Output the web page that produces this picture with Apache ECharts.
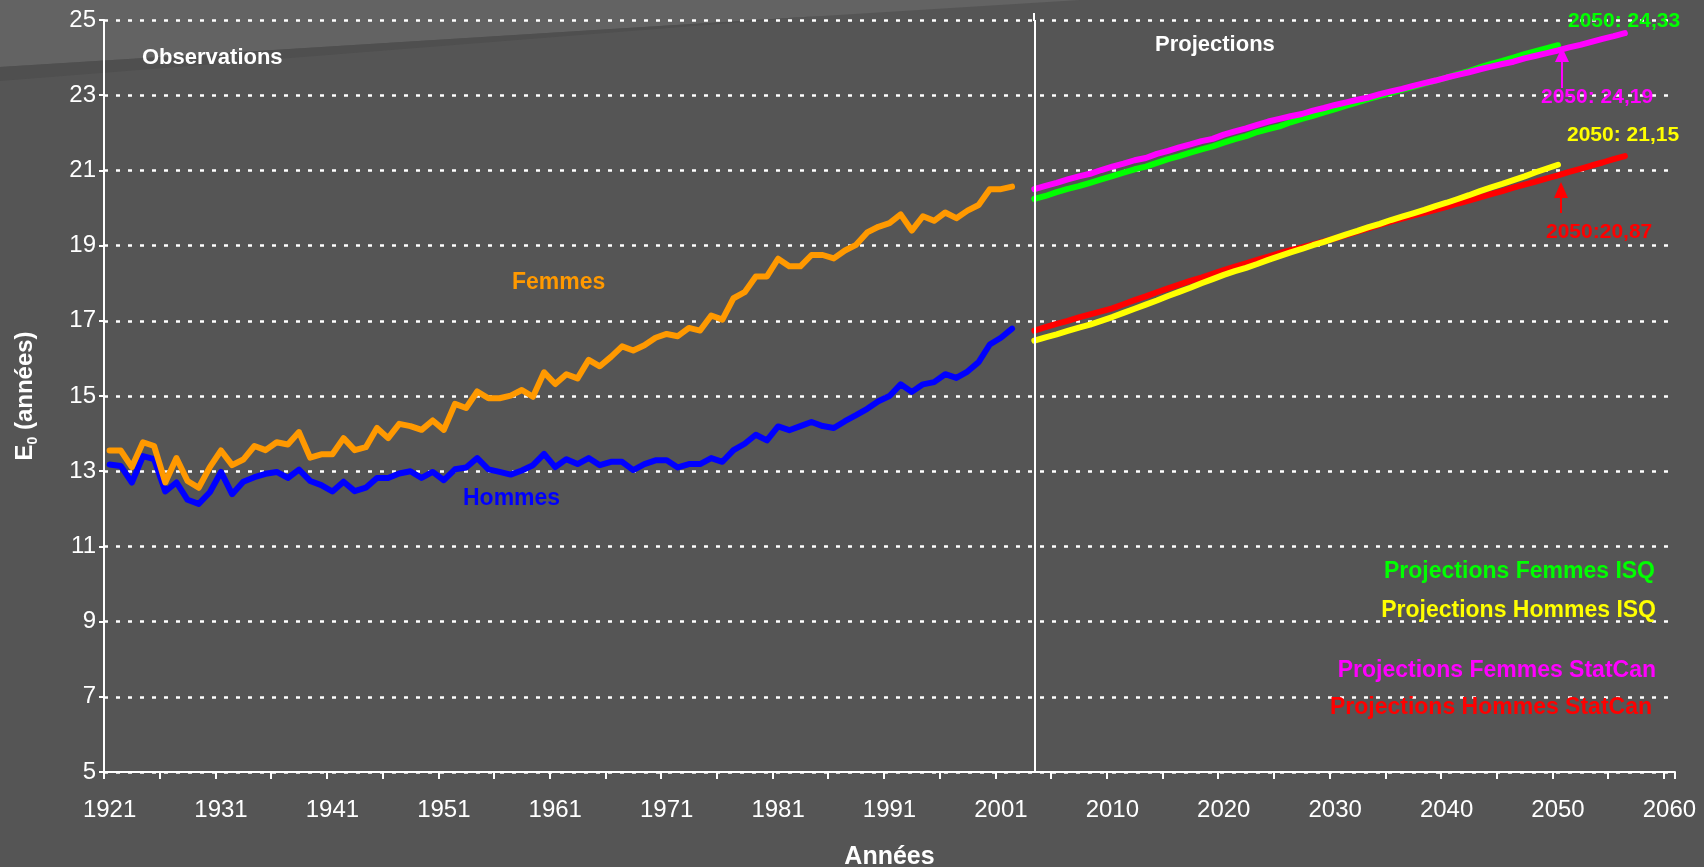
<!DOCTYPE html>
<html>
<head>
<meta charset="utf-8">
<title>Espérance de vie - observations et projections</title>
<script src="https://cdn.jsdelivr.net/npm/echarts/dist/echarts.min.js"></script>
<style>
  html, body { margin: 0; padding: 0; background: #555555; }
  #chart { width: 1704px; height: 867px; }
</style>
</head>
<body>
<div id="chart"></div>
<script type="text/javascript">
// années de l'axe : observations 1921-2002, puis projections 2002-2060
var obsYears = [1921, 1922, 1923, 1924, 1925, 1926, 1927, 1928, 1929, 1930,
  1931, 1932, 1933, 1934, 1935, 1936, 1937, 1938, 1939, 1940,
  1941, 1942, 1943, 1944, 1945, 1946, 1947, 1948, 1949, 1950,
  1951, 1952, 1953, 1954, 1955, 1956, 1957, 1958, 1959, 1960,
  1961, 1962, 1963, 1964, 1965, 1966, 1967, 1968, 1969, 1970,
  1971, 1972, 1973, 1974, 1975, 1976, 1977, 1978, 1979, 1980,
  1981, 1982, 1983, 1984, 1985, 1986, 1987, 1988, 1989, 1990,
  1991, 1992, 1993, 1994, 1995, 1996, 1997, 1998, 1999, 2000,
  2001, 2002];
var projYears = [2002, 2003, 2004, 2005, 2006, 2007, 2008, 2009, 2010,
  2011, 2012, 2013, 2014, 2015, 2016, 2017, 2018, 2019, 2020,
  2021, 2022, 2023, 2024, 2025, 2026, 2027, 2028, 2029, 2030,
  2031, 2032, 2033, 2034, 2035, 2036, 2037, 2038, 2039, 2040,
  2041, 2042, 2043, 2044, 2045, 2046, 2047, 2048, 2049, 2050,
  2051, 2052, 2053, 2054, 2055, 2056, 2057, 2058, 2059, 2060];

// observations 1921-2002
var femmesObs = [13.55, 13.55, 13.11, 13.77, 13.67, 12.70, 13.35, 12.74, 12.56, 13.11,
  13.55, 13.16, 13.31, 13.67, 13.56, 13.77, 13.71, 14.04, 13.36, 13.45,
  13.45, 13.88, 13.56, 13.64, 14.15, 13.88, 14.26, 14.20, 14.10, 14.35,
  14.10, 14.79, 14.68, 15.12, 14.94, 14.94, 15.01, 15.16, 14.98, 15.63,
  15.32, 15.58, 15.47, 15.96, 15.79, 16.04, 16.32, 16.21, 16.35, 16.55,
  16.65, 16.59, 16.81, 16.74, 17.14, 17.03, 17.60, 17.76, 18.18, 18.18,
  18.65, 18.45, 18.45, 18.75, 18.75, 18.66, 18.87, 19.02, 19.35, 19.50,
  19.60, 19.83, 19.40, 19.78, 19.66, 19.88, 19.73, 19.93, 20.08, 20.50,
  20.50, 20.57];
var hommesObs = [13.18, 13.14, 12.70, 13.40, 13.32, 12.46, 12.70, 12.24, 12.13, 12.44,
  12.98, 12.39, 12.72, 12.84, 12.93, 12.98, 12.82, 13.04, 12.74, 12.63,
  12.46, 12.72, 12.47, 12.56, 12.82, 12.82, 12.94, 13.00, 12.82, 12.98,
  12.76, 13.05, 13.10, 13.35, 13.05, 12.98, 12.91, 13.02, 13.16, 13.46,
  13.11, 13.32, 13.19, 13.35, 13.16, 13.25, 13.25, 13.03, 13.19, 13.29,
  13.29, 13.10, 13.19, 13.19, 13.35, 13.25, 13.56, 13.73, 13.97, 13.82,
  14.19, 14.09, 14.20, 14.31, 14.20, 14.15, 14.33, 14.49, 14.66, 14.86,
  15.00, 15.31, 15.11, 15.31, 15.37, 15.58, 15.48, 15.65, 15.90, 16.37,
  16.55, 16.79];

// projections, à partir de 2003 (ISQ jusqu'à 2050, StatCan jusqu'à 2056)
var projStart = 2003;
var femmesISQ = [20.24, 20.32, 20.42, 20.51, 20.58, 20.67, 20.76, 20.85, 20.94, 21.03,
  21.10, 21.20, 21.30, 21.38, 21.47, 21.56, 21.64, 21.74, 21.83, 21.91,
  22.02, 22.10, 22.17, 22.28, 22.37, 22.45, 22.54, 22.63, 22.72, 22.81,
  22.90, 22.98, 23.06, 23.14, 23.22, 23.31, 23.39, 23.47, 23.56, 23.64,
  23.74, 23.83, 23.91, 24.00, 24.09, 24.17, 24.25, 24.33];
var hommesISQ = [16.47, 16.56, 16.64, 16.73, 16.82, 16.90, 17.00, 17.10, 17.21, 17.32,
  17.43, 17.54, 17.66, 17.77, 17.88, 18.00, 18.11, 18.22, 18.32, 18.41,
  18.51, 18.62, 18.72, 18.82, 18.91, 19.01, 19.10, 19.20, 19.30, 19.39,
  19.49, 19.58, 19.68, 19.77, 19.86, 19.95, 20.05, 20.14, 20.24, 20.34,
  20.45, 20.55, 20.64, 20.74, 20.84, 20.95, 21.05, 21.15];
var femmesStatCan = [20.50, 20.59, 20.67, 20.76, 20.84, 20.91, 21.01, 21.10, 21.18, 21.27,
  21.33, 21.44, 21.52, 21.61, 21.69, 21.78, 21.84, 21.95, 22.04, 22.12,
  22.21, 22.30, 22.37, 22.44, 22.50, 22.59, 22.66, 22.74, 22.81, 22.88,
  22.94, 23.03, 23.10, 23.17, 23.25, 23.32, 23.39, 23.47, 23.54, 23.61,
  23.69, 23.76, 23.83, 23.89, 23.98, 24.05, 24.12, 24.19, 24.27, 24.34,
  24.42, 24.50, 24.57, 24.65];
var hommesStatCan = [16.74, 16.83, 16.92, 17.00, 17.09, 17.17, 17.25, 17.33, 17.44, 17.55,
  17.65, 17.76, 17.86, 17.96, 18.06, 18.15, 18.25, 18.35, 18.44, 18.53,
  18.62, 18.71, 18.80, 18.88, 18.95, 19.03, 19.11, 19.19, 19.28, 19.37,
  19.46, 19.55, 19.64, 19.72, 19.80, 19.87, 19.95, 20.03, 20.12, 20.20,
  20.28, 20.37, 20.45, 20.54, 20.62, 20.70, 20.79, 20.87, 20.96, 21.04,
  21.13, 21.21, 21.30, 21.38];

var years = obsYears.concat(projYears);

function padObs(vals) {
  var out = vals.slice();
  while (out.length < years.length) out.push(null);
  return out;
}
function padProj(vals) {
  var out = [];
  var offset = obsYears.length + (projStart - projYears[0]);
  for (var i = 0; i < offset; i++) out.push(null);
  return out.concat(vals);
}

var narrow = '"Liberation Sans Narrow", "Arial Narrow", "Liberation Sans", sans-serif';
var sans = '"Liberation Sans", Arial, sans-serif';

function lineSeries(name, data, color, z) {
  return {
    name: name,
    type: 'line',
    data: data,
    z: z,
    symbol: 'none',
    showSymbol: false,
    connectNulls: false,
    animation: false,
    lineStyle: { color: color, width: 6, cap: 'round', join: 'round' },
    itemStyle: { color: color }
  };
}

function txt(text, x, y, color, size, align) {
  return {
    type: 'text', x: x, y: y, z: 20,
    style: {
      text: text, fill: color, fontSize: size, fontWeight: 'bold',
      fontFamily: sans, align: align || 'left', verticalAlign: 'middle'
    }
  };
}

var chart = echarts.init(document.getElementById('chart'), null, { renderer: 'canvas' });

var obsSeriesF = lineSeries('Femmes', padObs(femmesObs), '#FF9900', 4);
var obsSeriesH = lineSeries('Hommes', padObs(hommesObs), '#0000FF', 3);
var isqF = lineSeries('Projections Femmes ISQ', padProj(femmesISQ), '#00FF00', 3);
var scF = lineSeries('Projections Femmes StatCan', padProj(femmesStatCan), '#FF00FF', 4);
var scH = lineSeries('Projections Hommes StatCan', padProj(hommesStatCan), '#FF0000', 3);
var isqH = lineSeries('Projections Hommes ISQ', padProj(hommesISQ), '#FFFF00', 4);

// séparation observations / projections
scH.markLine = {
  silent: true,
  symbol: 'none',
  animation: false,
  label: { show: false },
  lineStyle: { color: '#FFFFFF', width: 2, type: 'solid' },
  data: [{ xAxis: obsYears.length + (projStart - projYears[0]) }]
};

var option = {
  backgroundColor: '#555555',
  animation: false,
  grid: { left: 104, right: 29, top: 20, bottom: 95, containLabel: false, outerBoundsMode: 'none' },
  xAxis: {
    type: 'category',
    data: years,
    boundaryGap: true,
    name: 'Années',
    nameLocation: 'middle',
    nameGap: 73,
    nameMoveOverlap: false,
    nameTextStyle: { color: '#FFFFFF', fontSize: 25, fontWeight: 'bold', fontFamily: sans },
    axisLine: { show: true, lineStyle: { color: '#FFFFFF', width: 2 } },
    axisTick: { show: true, interval: 4, length: 7, lineStyle: { color: '#FFFFFF', width: 2 } },
    axisLabel: { interval: 9, color: '#FFFFFF', fontSize: 24, fontFamily: narrow, margin: 26 },
    splitLine: { show: false }
  },
  yAxis: {
    type: 'value',
    min: 5,
    max: 25,
    interval: 2,
    name: '{e|E}{s|0}{e| (années)}',
    nameLocation: 'middle',
    nameGap: 64,
    nameMoveOverlap: false,
    nameTextStyle: {
      color: '#FFFFFF',
      rich: {
        e: { color: '#FFFFFF', fontSize: 24, fontWeight: 'bold', fontFamily: sans, lineHeight: 30 },
        s: { color: '#FFFFFF', fontSize: 14, fontWeight: 'bold', fontFamily: sans, lineHeight: 30, verticalAlign: 'bottom' }
      }
    },
    axisLine: { show: true, lineStyle: { color: '#FFFFFF', width: 2 } },
    axisTick: { show: true, length: 5, lineStyle: { color: '#FFFFFF', width: 2 } },
    axisLabel: { color: '#FFFFFF', fontSize: 24, fontFamily: narrow, margin: 8 },
    splitLine: { show: true, lineStyle: { color: '#FFFFFF', width: 2.5, type: [4, 8] } }
  },
  graphic: [
    // bandeau clair en haut à gauche
    { type: 'polygon', z: -5, silent: true, shape: { points: [[0, 0], [1080, 0], [0, 67]] }, style: { fill: '#636363' } },
    { type: 'polygon', z: -5, silent: true, shape: { points: [[0, 67], [820, 16], [0, 81]] }, style: { fill: '#4f4f4f' } },
    // prolongement du trait de séparation au-dessus de la grille
    { type: 'line', z: 5, silent: true, shape: { x1: 1034, y1: 13, x2: 1034, y2: 21 }, style: { stroke: '#FFFFFF', lineWidth: 2 } },

    txt('Observations', 142, 58, '#FFFFFF', 22),
    txt('Projections', 1155, 45, '#FFFFFF', 22),
    txt('Femmes', 512, 283, '#FF9900', 23),
    txt('Hommes', 463, 499, '#0000FF', 23),

    txt('2050: 24,33', 1568, 21, '#00FF00', 21),
    txt('2050: 24,19', 1541, 97, '#FF00FF', 21),
    txt('2050: 21,15', 1567, 135, '#FFFF00', 21),
    txt('2050:20,87', 1546, 232, '#FF0000', 21),

    txt('Projections Femmes ISQ', 1655, 572, '#00FF00', 23, 'right'),
    txt('Projections Hommes ISQ', 1656, 611, '#FFFF00', 23, 'right'),
    txt('Projections Femmes StatCan', 1656, 671, '#FF00FF', 23, 'right'),
    txt('Projections Hommes StatCan', 1652, 708, '#FF0000', 23, 'right'),

    // flèches vers les valeurs 2050 de StatCan
    { type: 'line', z: 1, shape: { x1: 1562, y1: 88, x2: 1562, y2: 58 }, style: { stroke: '#FF00FF', lineWidth: 2 } },
    { type: 'polygon', z: 1, shape: { points: [[1562, 47], [1555, 62], [1569, 62]] }, style: { fill: '#FF00FF' } },
    { type: 'line', z: 1, shape: { x1: 1561, y1: 213, x2: 1561, y2: 194 }, style: { stroke: '#FF0000', lineWidth: 2 } },
    { type: 'polygon', z: 1, shape: { points: [[1561, 182], [1554, 198], [1568, 198]] }, style: { fill: '#FF0000' } }
  ],
  series: [obsSeriesH, obsSeriesF, isqF, scF, scH, isqH]
};

chart.setOption(option);
</script>
</body>
</html>
